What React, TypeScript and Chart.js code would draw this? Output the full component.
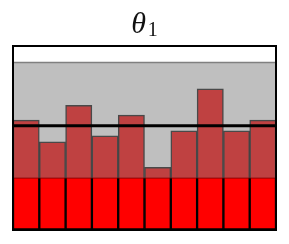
import React, { useEffect, useRef } from "react";
import { Chart, registerables } from "chart.js";

Chart.register(...registerables);

const categories = ["1", "2", "3", "4", "5", "6", "7", "8", "9", "10"];
const barValues = [0.597, 0.479, 0.678, 0.512, 0.624, 0.34, 0.539, 0.767, 0.539, 0.597];
const redBandLevel = 0.282;
const grayBandTop = 0.91;
const meanLine = 0.566;
const titleMain = "θ";
const titleSub = "1";

export default function App() {
  const ref = useRef<HTMLCanvasElement>(null);
  useEffect(() => {
    if (!ref.current) return;
    const bandsPlugin = {
      id: "bands",
      beforeDatasetsDraw(chart: any) {
        const { ctx, chartArea: a, scales } = chart;
        const y = scales.y;
        ctx.save();
        ctx.fillStyle = "#ffffff";
        ctx.fillRect(a.left, a.top, a.right - a.left, a.bottom - a.top);
        const gt = y.getPixelForValue(grayBandTop);
        const gb = y.getPixelForValue(0);
        ctx.fillStyle = "#bfbfbf";
        ctx.fillRect(a.left, gt, a.right - a.left, gb - gt);
        ctx.strokeStyle = "#808080";
        ctx.lineWidth = 1.5;
        ctx.beginPath();
        ctx.moveTo(a.left, gt);
        ctx.lineTo(a.right, gt);
        ctx.stroke();
        ctx.restore();
      },
      afterDatasetsDraw(chart: any) {
        const { ctx, chartArea: a, scales } = chart;
        const y = scales.y;
        ctx.save();
        const rt = y.getPixelForValue(redBandLevel);
        ctx.strokeStyle = "rgba(120,0,0,0.8)";
        ctx.lineWidth = 1;
        ctx.beginPath();
        ctx.moveTo(a.left, rt);
        ctx.lineTo(a.right, rt);
        ctx.stroke();
        const ml = y.getPixelForValue(meanLine);
        ctx.strokeStyle = "#000000";
        ctx.lineWidth = 3;
        ctx.beginPath();
        ctx.moveTo(a.left, ml);
        ctx.lineTo(a.right, ml);
        ctx.stroke();
        ctx.lineWidth = 2;
        ctx.strokeRect(a.left, a.top, a.right - a.left, a.bottom - a.top);
        // title
        ctx.fillStyle = "#111111";
        ctx.textBaseline = "alphabetic";
        ctx.font = "italic 30px 'Liberation Serif'";
        const w1 = ctx.measureText(titleMain).width;
        ctx.font = "20px 'Liberation Serif'";
        const w2 = ctx.measureText(titleSub).width;
        const cx = (a.left + a.right) / 2;
        const x0 = cx - (w1 + w2 + 2) / 2;
        ctx.font = "italic 30px 'Liberation Serif'";
        ctx.fillText(titleMain, x0, 33);
        ctx.font = "20px 'Liberation Serif'";
        ctx.fillText(titleSub, x0 + w1 + 2, 36);
        ctx.restore();
      },
    };
    const chart = new Chart(ref.current, {
      type: "bar",
      data: {
        labels: categories,
        datasets: [
          {
            data: categories.map(() => redBandLevel),
            backgroundColor: "#ff0000",
            borderColor: "#000000",
            borderWidth: { top: 0, left: 1.5, right: 1.5, bottom: 2 } as any,
            borderSkipped: false,
            grouped: false,
            categoryPercentage: 1,
            barPercentage: 1,
          },
          {
            data: barValues,
            backgroundColor: "#bf4141",
            borderColor: "rgba(60,60,60,0.9)",
            borderWidth: 1.5,
            borderSkipped: false,
            grouped: false,
            categoryPercentage: 1,
            barPercentage: 1,
          },
        ],
      },
      options: {
        animation: false,
        responsive: false,
        maintainAspectRatio: false,
        layout: { padding: { left: 13, right: 13, top: 46, bottom: 14 } },
        plugins: { legend: { display: false }, tooltip: { enabled: false }, title: { display: false } },
        scales: {
          x: { display: false, offset: true },
          y: { display: false, min: 0, max: 1 },
        },
      },
      plugins: [bandsPlugin],
    });
    return () => chart.destroy();
  }, []);
  return (
    <div style={{ position: "fixed", left: 0, top: 0, width: 289, height: 244, background: "#fff" }}>
      <canvas ref={ref} width={289} height={244} style={{ width: 289, height: 244 }} />
    </div>
  );
}
